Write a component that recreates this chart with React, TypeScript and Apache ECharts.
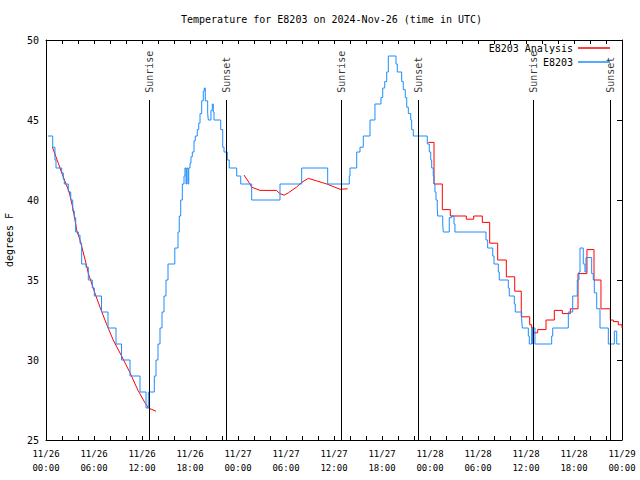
import React, { useEffect, useRef } from 'react';
import * as echarts from 'echarts';

const TITLE = 'Temperature for E8203 on 2024-Nov-26 (time in UTC)';
const FONT = 'DejaVu Sans Mono';

// x axis: hours since 11/26 00:00 UTC
const xTickLabels = [
  '11/26\n00:00', '11/26\n06:00', '11/26\n12:00', '11/26\n18:00',
  '11/27\n00:00', '11/27\n06:00', '11/27\n12:00', '11/27\n18:00',
  '11/28\n00:00', '11/28\n06:00', '11/28\n12:00', '11/28\n18:00',
  '11/29\n00:00',
];

// Observations (E8203), stepped
const obsHours = [
  0.25, 0.84, 1.12, 1.25, 1.96, 2.16, 2.29, 2.79, 3.09, 3.34, 3.54, 3.71, 4.04, 4.25, 4.46, 5.0, 5.29, 5.79, 6.04,
  6.94, 7.75, 8.75, 9.44, 10.5, 11.75, 12.5, 12.79, 13.54, 13.75, 14.0, 14.25, 14.5, 14.75, 15.0, 15.25, 16.1,
  16.5, 16.66, 16.84, 17.04, 17.25, 17.37, 17.5, 17.59, 17.75, 17.84, 18.0, 18.12, 18.29, 18.5, 18.66, 18.91,
  19.09, 19.25, 19.46, 19.66, 19.79, 19.91, 20.21, 20.29, 20.62, 20.79, 20.91, 21.0, 21.84, 22.09, 22.25, 22.66,
  22.91, 23.84, 24.34, 25.71, 29.25, 31.96, 35.21, 37.91, 38.0, 38.84, 39.25, 39.66, 40.5, 41.12, 41.87, 42.09,
  42.34, 42.59, 42.79, 43.75, 43.91, 44.46, 44.66, 44.91, 45.09, 45.29, 45.59, 45.71, 45.91, 47.66, 47.91, 48.09,
  48.21, 48.41, 48.5, 48.62, 48.75, 48.91, 48.96, 49.59, 49.66, 50.41, 50.71, 51.0, 51.12, 55.0, 55.21, 55.84,
  56.0, 56.54, 56.66, 57.79, 57.91, 58.54, 58.66, 59.46, 59.54, 60.29, 60.41, 60.71, 60.84, 60.91, 61.12, 63.21,
  63.34, 65.29, 65.84, 66.41, 66.62, 66.75, 67.16, 67.37, 67.5, 68.21, 68.41, 68.54, 68.84, 69.25, 70.29, 71.04,
  71.34, 71.75,
];
const obsTemps = [
  44, 43.3, 42.5, 42, 41.7, 41.3, 41, 40.5, 40, 39.3, 38.9, 38, 37.8, 37.3, 36, 35.8, 35, 34.5, 34,
  33, 32, 31, 30, 29, 28, 27, 28, 29, 30, 31, 32, 33, 34, 35, 36, 37,
  38, 39, 40, 41, 41.5, 42, 41, 42, 41, 42, 42.3, 42.7, 43, 43.7, 44, 44.4,
  44.8, 45.4, 46.2, 46.8, 47, 46.2, 45.4, 45, 45.6, 46, 45.5, 45, 44.4, 43.3, 43, 42.5,
  42, 41.5, 41, 40, 41, 42, 41, 41.5, 42, 43, 43.3, 44, 45, 46, 46.4, 47,
  47.4, 48, 49, 48.5, 48, 47.4, 46.9, 46.4, 45.8, 45.4, 45, 44.4, 44, 43.5, 43, 42.5,
  42, 41.5, 41, 40.5, 40, 39.5, 39, 38.5, 38, 38.9, 39, 38.5, 38, 37.5, 37, 36.5,
  36, 35.5, 35, 34.5, 34, 33.5, 33, 32.5, 32, 31.5, 31, 32, 31, 32, 31, 31.5,
  32, 33, 34, 35, 35.5, 37, 36, 35.5, 36.4, 35.4, 35, 34.2, 33.2, 32, 31, 31.8,
  31, 31,
];

// Analysis (E8203 Analysis)
const anaHours1 = [0.8, 1.54, 1.96, 2.5, 2.9, 3.4, 3.84, 4.25, 4.9, 5.3, 6.1, 6.75, 7.6, 8.4, 9.5, 10.5, 11.5, 12.4, 12.8, 13.75];
const anaTemps1 = [43.3, 42.3, 41.7, 41.0, 40.5, 39.4, 38.1, 37.5, 36.25, 35.4, 34.2, 33.3, 32.2, 31.25, 30.2, 29.2, 28.1, 27.3, 27.0, 26.8];
const anaHours2 = [24.75, 25.5, 25.7, 26.75, 28.8, 29.25, 29.75, 30.3, 31.3, 31.96, 32.8, 33.8, 35.1, 36.1, 36.75, 37.7];
const anaTemps2 = [41.56, 41.0, 40.8, 40.6, 40.6, 40.4, 40.3, 40.45, 40.8, 41.1, 41.35, 41.2, 41.0, 40.8, 40.67, 40.7];
const anaHours3 = [
  47.79, 48.5, 49.54, 50.54, 52.54, 53.46, 54.54, 55.46, 56.46, 57.54, 58.59, 59.41, 60.46, 60.71, 60.91, 61.46,
  62.5, 63.54, 64.54, 65.54, 66.5, 67.62, 68.5, 69.37, 70.54, 70.91, 71.54, 72.0,
];
const anaTemps3 = [
  43.6, 41.0, 39.4, 39.0, 38.8, 39.0, 38.6, 37.3, 36.25, 35.2, 34.3, 32.7, 32.2, 32.0, 31.7, 31.9,
  32.5, 33.1, 32.9, 33.2, 35.4, 36.9, 35.0, 33.2, 32.5, 32.4, 32.2, 32.0,
];

// Sun events
const eventNames = ['Sunrise', 'Sunset', 'Sunrise', 'Sunset', 'Sunrise', 'Sunset'];
const eventHours = [12.95, 22.5, 36.95, 46.5, 60.95, 70.5];
const EVENT_LINE_TOP = 46.25;
const EVENT_LABEL_BASE = 46.7;

const pairs = (xs: number[], ys: number[]) => xs.map((x, i) => [x, ys[i]]);

export default function App() {
  const ref = useRef<HTMLDivElement>(null);
  useEffect(() => {
    if (!ref.current) return;
    const chart = echarts.init(ref.current, undefined, { renderer: 'svg' });
    const xCommon = {
      type: 'value',
      min: 0,
      max: 72,
      interval: 2,
      splitLine: { show: false },
      axisLine: { show: true, onZero: false, lineStyle: { color: '#000', width: 1 } },
      axisTick: { show: true, inside: true, length: 4, lineStyle: { color: '#000' } },
    };
    const yCommon = {
      type: 'value',
      min: 25,
      max: 50,
      interval: 5,
      splitLine: { show: false },
      axisLine: { show: true, onZero: false, lineStyle: { color: '#000', width: 1 } },
    };
    const lineBase = {
      type: 'line',
      showSymbol: false,
      symbol: 'none',
      lineStyle: { width: 1 },
      xAxisIndex: 0,
      yAxisIndex: 0,
    };
    const legendBase = {
      right: 30,
      align: 'right',
      icon: 'rect',
      itemWidth: 32,
      itemHeight: 1.5,
      itemGap: 0,
      padding: 0,
      textStyle: { fontFamily: FONT, fontSize: 10, color: '#000' },
    };
    chart.setOption({
      animation: false,
      backgroundColor: '#fff',
      textStyle: { fontFamily: FONT, color: '#000' },
      title: {
        text: TITLE,
        left: 181,
        top: 14,
        padding: 0,
        textStyle: { fontFamily: FONT, fontSize: 10, fontWeight: 'normal', color: '#000' },
      },
      legend: [
        { ...legendBase, data: ['E8203 Analysis'], top: 43 },
        { ...legendBase, data: ['E8203'], top: 57 },
      ],
      grid: { left: 46, right: 18, top: 40, bottom: 40, containLabel: false, outerBoundsMode: 'none' },
      xAxis: [
        {
          ...xCommon,
          position: 'bottom',
          axisLabel: {
            show: true,
            interval: 0,
            margin: 7,
            fontFamily: FONT,
            fontSize: 9,
            lineHeight: 14,
            color: '#000',
            showMinLabel: true,
            showMaxLabel: true,
            formatter: (v: number) => (Math.round(v) % 6 === 0 ? xTickLabels[Math.round(v) / 6] : ''),
          },
        },
        { ...xCommon, position: 'top', axisLabel: { show: false } },
      ],
      yAxis: [
        {
          ...yCommon,
          position: 'left',
          axisTick: { show: false },
          axisLabel: { show: true, margin: 7, fontFamily: FONT, fontSize: 10, color: '#000' },
          name: 'degrees F',
          nameLocation: 'middle',
          nameGap: 32,
          nameTextStyle: { fontFamily: FONT, fontSize: 10, color: '#000' },
        },
        {
          ...yCommon,
          position: 'right',
          axisTick: { show: true, inside: true, length: 5, lineStyle: { color: '#000' } },
          axisLabel: { show: false },
        },
      ],
      series: [
        { ...lineBase, name: 'E8203 Analysis', color: '#ff0000', data: pairs(anaHours1, anaTemps1) },
        { ...lineBase, name: 'E8203 Analysis', color: '#ff0000', data: pairs(anaHours2, anaTemps2) },
        { ...lineBase, name: 'E8203 Analysis', color: '#ff0000', step: 'end', data: pairs(anaHours3, anaTemps3) },
        { ...lineBase, name: 'E8203', color: '#1e8cff', step: 'end', data: pairs(obsHours, obsTemps) },
        {
          type: 'scatter',
          name: 'events',
          xAxisIndex: 0,
          yAxisIndex: 0,
          symbolSize: 0,
          silent: true,
          data: eventHours.map((h, i) => ({ value: [h, EVENT_LABEL_BASE], name: eventNames[i] })),
          label: {
            show: true,
            position: 'right',
            distance: 0,
            rotate: 90,
            formatter: '{b}',
            fontFamily: FONT,
            fontSize: 10,
            color: '#000',
          },
          markLine: {
            silent: true,
            symbol: ['none', 'none'],
            label: { show: false },
            lineStyle: { color: '#000', width: 1, type: 'solid' },
            data: eventHours.map((h) => [{ coord: [h, EVENT_LINE_TOP] }, { coord: [h, 25] }]),
          },
        },
      ],
    });
    return () => chart.dispose();
  }, []);
  return (
    <div
      ref={ref}
      style={{ position: 'fixed', left: 0, top: 0, width: 640, height: 480, background: '#fff' }}
    />
  );
}
